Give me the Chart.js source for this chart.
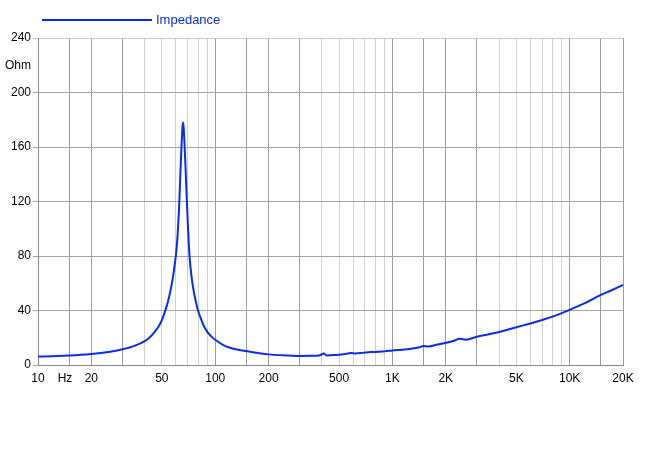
<!DOCTYPE html>
<html>
<head>
<meta charset="utf-8">
<script src="https://cdn.jsdelivr.net/npm/chart.js@4/dist/chart.umd.min.js"></script>
<style>
  body { margin: 0; background: #fff; }
</style>
</head>
<body>
<canvas id="imp-chart" width="650" height="472"></canvas>
<script>
// impedance sweep, values
const freqs = [10, 12, 15, 20, 25, 30, 35, 40, 42, 44, 46, 48, 50, 52, 54, 56, 57.5, 59, 60.5, 61.5, 62.5, 63.5, 64.5, 65.3, 65.8, 66.3, 67, 68, 69, 70, 71, 72, 73.5, 75, 77, 80, 83, 86, 90, 95, 100, 110, 120, 135, 150, 175, 200, 250, 300, 350, 390, 410, 425, 450, 500, 550, 580, 620, 680, 750, 800, 900, 1000, 1200, 1400, 1500, 1600, 1800, 2000, 2200, 2400, 2600, 3000, 3500, 4000, 5000, 6000, 7000, 8000, 10000, 12000, 15000, 17000, 20000];
const ohms = [6.2, 6.5, 6.9, 8.0, 9.5, 11.5, 14.0, 17.5, 19.5, 22, 25, 28.5, 33, 39, 46, 55, 63, 73, 85, 98, 115, 138, 160, 174, 178, 175, 164, 145, 124, 105, 88, 76, 65, 57, 49, 40, 34, 29, 24.5, 21, 18.5, 15, 12.8, 11.2, 10.2, 8.8, 7.8, 7.0, 6.6, 6.7, 7.2, 8.5, 7.0, 7.2, 7.6, 8.2, 8.8, 8.4, 8.9, 9.6, 9.6, 10.0, 10.6, 11.6, 12.8, 14.0, 13.6, 15.0, 16.3, 17.6, 19.2, 18.6, 20.8, 22.5, 24.2, 27.7, 30.5, 33, 35.5, 40.5, 45, 51.4, 54.5, 58.7];

// x ticks: grid lines + labels
const xGrid = [10, 15, 20, 30, 40, 50, 60, 70, 80, 90, 100, 150, 200, 300, 400, 500, 600, 700, 800, 900, 1000, 1500, 2000, 3000, 4000, 5000, 6000, 7000, 8000, 9000, 10000, 15000, 20000];
const xLabels = { 10: '10', 14.2: 'Hz', 20: '20', 50: '50', 100: '100', 200: '200', 500: '500', 1000: '1K', 2000: '2K', 5000: '5K', 10000: '10K', 20000: '20K' };
const yTicks = [0, 40, 80, 120, 160, 200, 220, 240];
const yLabels = { 220: 'Ohm' };

const lineColor = '#0a2cf0';

Chart.defaults.font.family = "'Liberation Sans', Arial, sans-serif";
Chart.defaults.font.size = 12;
Chart.defaults.color = '#000';

// legend drawn by hand so it sits where the original has it
const topLegend = {
  id: 'topLegend',
  afterDraw(chart) {
    const c = chart.ctx;
    const ds = chart.data.datasets[0];
    c.save();
    c.strokeStyle = ds.borderColor;
    c.lineWidth = 2;
    c.beginPath();
    c.moveTo(42, 20);
    c.lineTo(152, 20);
    c.stroke();
    c.fillStyle = ds.borderColor;
    c.font = "13px 'Liberation Sans', Arial, sans-serif";
    c.textBaseline = 'middle';
    c.fillText(ds.label, 156, 20);
    c.restore();
  }
};

function isDark(v) {
  const m = v / Math.pow(10, Math.floor(Math.log10(v) + 1e-9));
  return [1, 1.5, 2, 3].some(d => Math.abs(m - d) < 0.01);
}

const ctx = document.getElementById('imp-chart');

new Chart(ctx, {
  type: 'line',
  data: {
    datasets: [{
      label: 'Impedance',
      data: freqs.map((f, i) => ({ x: f, y: ohms[i] })),
      borderColor: lineColor,
      borderWidth: 2,
      pointRadius: 0,
      cubicInterpolationMode: 'monotone',
      fill: false
    }]
  },
  options: {
    responsive: false,
    animation: false,
    layout: { padding: { left: 0, right: 27, top: 38, bottom: 82 } },
    plugins: {
      legend: { display: false },
      tooltip: { enabled: false }
    },
    scales: {
      x: {
        type: 'logarithmic',
        min: 10,
        max: 20000,
        afterBuildTicks: (scale) => {
          const vals = xGrid.concat([14.2]).sort((a, b) => a - b);
          scale.ticks = vals.map(v => ({ value: v }));
        },
        afterFit: (scale) => { scale.height = 25; },
        ticks: {
          autoSkip: false,
          maxRotation: 0,
          padding: 6,
          callback: (val) => xLabels[val] || ''
        },
        grid: {
          drawTicks: false,
          color: (c) => {
            const v = c.tick && c.tick.value;
            if (v === 14.2) return 'rgba(0,0,0,0)';
            return isDark(v) ? '#9c9c9c' : '#d0d0d0';
          }
        },
        border: { color: '#888', width: 1 }
      },
      y: {
        min: 0,
        max: 240,
        afterBuildTicks: (scale) => {
          scale.ticks = yTicks.map(v => ({ value: v }));
        },
        afterFit: (scale) => { scale.width = 38; },
        ticks: {
          padding: 2,
          callback: (val) => yLabels[val] || String(val)
        },
        grid: {
          tickLength: 5,
          color: (c) => {
            const v = c.tick && c.tick.value;
            if (v === 220) return 'rgba(0,0,0,0)';
            if (v === 240) return '#c8c8c8';
            return '#a4a4a4';
          }
        },
        border: { color: '#888', width: 1 }
      }
    }
  },
  plugins: [topLegend]
});
</script>
</body>
</html>
